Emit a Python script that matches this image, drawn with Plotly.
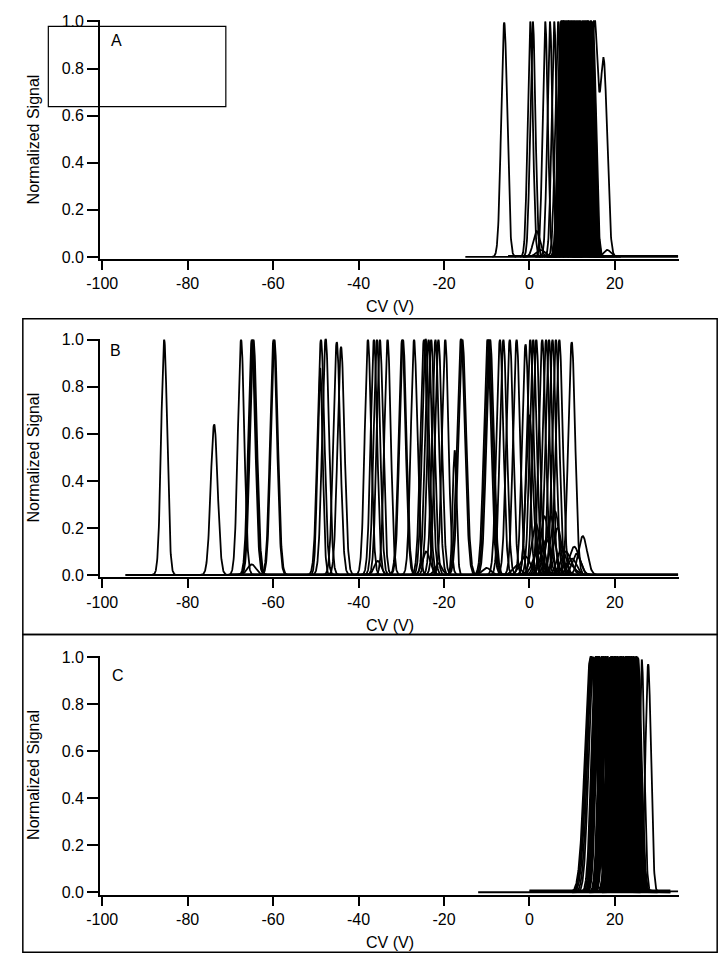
import numpy as np
import plotly.graph_objects as go

# ---------------- data ----------------
# Panel A: peak centres (V), heights, widths (sigma, V)
A_centers = [-5.9, 0.2, 0.8, 3.7, 4.8, 5.8, 6.7,
             7.3, 7.5, 7.65, 7.8, 7.95, 8.1, 8.25, 8.4, 8.55, 8.7, 8.85, 9.0,
             9.15, 9.3, 9.45, 9.6, 9.75, 9.9, 10.05, 10.2, 10.35, 10.5, 10.65,
             10.8, 10.95, 11.1, 11.25, 11.4, 11.55, 11.7, 11.85, 12.0, 12.15,
             12.3, 12.45, 12.6, 12.75, 12.9, 13.05, 13.2, 13.35, 13.5, 13.65,
             13.8, 13.95, 14.1, 14.25, 14.4, 14.55, 14.7, 14.85,
             1.7, 2.6, 18.2, 9.5, 12.0]
A_heights = [0.995, 1.0, 1.0, 1.0, 1.0, 1.0, 1.0,
             1.0, 1.005, 0.995, 1.01, 1.0, 1.005, 0.995, 1.0, 1.01, 1.0, 0.995, 1.005,
             1.0, 1.01, 1.0, 0.995, 1.005, 1.0, 1.0, 1.01, 0.995, 1.0, 1.005,
             1.0, 0.995, 1.005, 1.0, 1.0, 1.01, 0.995, 1.0, 1.005, 0.995,
             1.0, 1.0, 1.01, 0.995, 1.0, 1.005, 1.0, 0.995, 1.01, 1.0,
             1.005, 0.995, 1.0, 1.0, 1.005, 0.995, 1.0, 0.995,
             0.11, 0.03, 0.03, 0.025, 0.02]
A_widths = [0.7, 0.6, 0.6, 0.6, 0.6, 0.6, 0.65,
            0.65, 0.7, 0.7, 0.7, 0.7, 0.7, 0.7, 0.7, 0.7, 0.7, 0.7, 0.7,
            0.7, 0.7, 0.7, 0.7, 0.7, 0.7, 0.7, 0.7, 0.7, 0.7, 0.7,
            0.7, 0.7, 0.7, 0.7, 0.7, 0.7, 0.7, 0.7, 0.7, 0.7,
            0.7, 0.7, 0.7, 0.7, 0.7, 0.7, 0.7, 0.7, 0.7, 0.7,
            0.7, 0.7, 0.7, 0.7, 0.7, 0.7, 0.7, 0.7,
            0.8, 1.0, 0.8, 2.0, 2.0]
# one scan in A shows two overlapping peaks
A_twin_centers = [15.2, 17.4]
A_twin_heights = [1.0, 0.82]
A_twin_widths = [0.8, 0.8]
A_scan = [-15.0, 34.8]

# Panel B
B_centers = [-85.5, -73.8, -67.5, -65.0, -64.8, -64.6, -59.9, -59.7,
             -49.0, -48.8, -47.7, -45.1, -44.1, -37.8, -36.4, -35.7, -35.0,
             -33.2, -29.8, -29.6, -27.0, -24.7, -24.3, -23.6, -23.0, -22.0,
             -21.3, -19.7, -17.5, -16.0, -15.7, -9.8, -9.5, -9.2, -6.9, -6.1,
             -4.6, -3.0, -0.9, 0.0, 0.2, 0.9, 1.6, 3.0, 3.9, 4.6, 5.4, 6.2,
             7.0, 9.9,
             -65.0, -35.5, -24.2, -21.3, -1.0, 1.5, 2.0, 2.5, 3.5, 4.0, 5.0,
             6.0, 6.6, 7.5, 8.5, 9.0, 10.0, 10.5, 11.0, 12.5, -3.0, -10.0]
B_heights = [1.0, 0.64, 1.0, 1.0, 1.0, 1.0, 1.0, 1.0,
             0.88, 1.0, 1.005, 0.99, 0.97, 1.0, 1.0, 1.0, 1.0,
             1.0, 1.0, 1.0, 1.0, 1.0, 1.005, 1.0, 1.0, 1.0,
             1.0, 1.0, 0.53, 1.005, 1.0, 1.0, 1.0, 1.0, 1.0, 1.0,
             1.0, 1.0, 0.98, 0.68, 1.0, 1.0, 1.0, 1.0, 1.0, 1.0, 1.0, 1.0,
             1.0, 0.99,
             0.045, 0.06, 0.10, 0.05, 0.08, 0.22, 0.10, 0.18, 0.25, 0.15, 0.25,
             0.27, 0.20, 0.12, 0.10, 0.05, 0.07, 0.12, 0.09, 0.165, 0.04, 0.03]
B_widths = [0.7, 0.8, 0.75, 0.8, 0.8, 0.8, 0.8, 0.8,
            0.6, 0.8, 0.8, 0.8, 0.8, 0.75, 0.75, 0.75, 0.75,
            0.75, 0.8, 0.8, 0.75, 0.8, 0.8, 0.8, 0.8, 0.8,
            0.8, 0.75, 0.45, 0.9, 0.9, 0.85, 0.85, 0.85, 0.8, 0.8,
            0.8, 0.8, 0.8, 0.8, 0.8, 0.8, 0.8, 0.8, 0.8, 0.8, 0.8, 0.8,
            0.8, 0.8,
            1.0, 0.8, 0.9, 0.8, 1.2, 1.0, 1.2, 1.0, 1.0, 1.2, 1.0,
            1.0, 1.0, 1.0, 1.2, 1.5, 1.0, 1.2, 1.0, 1.0, 1.0, 1.0]
B_scan = [-94.6, 34.8]

# Panel C
C_centers = [14.3, 14.45, 14.6, 14.75, 14.9, 15.4, 15.55, 15.7, 15.85, 16.0,
             16.15, 16.3, 16.45, 16.95, 17.1, 17.25, 17.4, 17.55, 17.7, 17.85,
             18.0, 18.15, 18.3, 18.85, 19.0, 19.15, 19.3, 19.45, 19.6, 19.75,
             19.9, 20.05, 20.2, 20.35, 20.5, 20.65, 20.8, 20.95, 21.1, 21.25,
             21.4, 21.55, 21.7, 21.85, 22.0, 22.15, 22.3, 22.45, 22.6, 22.75,
             22.9, 23.05, 23.2, 23.35, 23.5, 23.65, 23.8, 23.95, 24.1, 24.25,
             24.4, 24.55, 24.7, 24.85, 25.0, 25.15, 25.3, 25.45, 26.3, 27.8,
             18.0, 22.0, 25.0]
C_heights = [1.0, 1.005, 1.0, 0.99, 1.0, 1.0, 1.005, 1.0, 1.005, 1.0,
             1.0, 1.005, 1.0, 1.005, 1.0, 1.0, 1.005, 1.0, 0.995, 1.005,
             1.0, 1.0, 1.005, 1.0, 1.0, 1.005, 0.995, 1.005, 1.0, 1.0,
             1.005, 1.0, 1.005, 1.0, 1.0, 1.005, 1.0, 0.995, 1.0, 1.005,
             1.0, 1.005, 1.0, 1.0, 1.005, 1.0, 0.995, 1.0, 1.005, 1.0,
             1.0, 1.005, 1.0, 0.995, 1.005, 1.0, 1.0, 1.005, 1.0, 1.0,
             1.005, 1.0, 0.995, 1.0, 1.005, 1.0, 1.0, 0.995, 0.99, 0.97,
             0.03, 0.03, 0.02]
C_widths = [1.3, 1.25, 1.2, 1.1, 1.0, 0.9, 0.85, 0.8, 0.8, 0.8,
            0.8, 0.8, 0.8, 0.8, 0.8, 0.8, 0.8, 0.8, 0.8, 0.8,
            0.8, 0.8, 0.8, 0.8, 0.8, 0.8, 0.8, 0.8, 0.8, 0.8,
            0.8, 0.8, 0.8, 0.8, 0.8, 0.8, 0.8, 0.8, 0.8, 0.8,
            0.8, 0.8, 0.8, 0.8, 0.8, 0.8, 0.8, 0.8, 0.8, 0.8,
            0.8, 0.8, 0.8, 0.8, 0.8, 0.8, 0.8, 0.8, 0.8, 0.8,
            0.8, 0.8, 0.8, 0.8, 0.8, 0.8, 0.8, 0.8, 0.6, 0.65,
            2.0, 2.0, 2.0]
C_scan_long = [-12.0, 33.0]
C_scan_short = [0.0, 33.0]

x_tick_vals = [-100, -80, -60, -40, -20, 0, 20]
x_tick_text = ["-100", "-80", "-60", "-40", "-20", "0", "20"]
y_tick_vals = [0.0, 0.2, 0.4, 0.6, 0.8, 1.0]
y_tick_text = ["0.0", "0.2", "0.4", "0.6", "0.8", "1.0"]
panel_labels = ["A", "B", "C"]

# ---------------- build curves ----------------
STEP = 0.05


def peaks_to_xy(centers, heights, widths):
    xs, ys = [], []
    for c, h, s in zip(centers, heights, widths):
        x = np.arange(c - 4 * s, c + 4 * s + STEP / 2, STEP)
        y = h * np.exp(-0.5 * ((x - c) / s) ** 2)
        xs += list(x) + [None]
        ys += list(y) + [None]
    return xs, ys


def twin_to_xy(centers, heights, widths):
    lo = min(c - 4 * s for c, s in zip(centers, widths))
    hi = max(c + 4 * s for c, s in zip(centers, widths))
    x = np.arange(lo, hi + STEP / 2, STEP)
    y = np.zeros_like(x)
    for c, h, s in zip(centers, heights, widths):
        y += h * np.exp(-0.5 * ((x - c) / s) ** 2)
    return list(x) + [None], list(y) + [None]


def baseline(scan, level=0.0):
    return [scan[0], scan[1], None], [level, level, None]


fig = go.Figure()
LINE = dict(color="black", width=1.8)

# Panel A
ax, ay = peaks_to_xy(A_centers, A_heights, A_widths)
tx, ty = twin_to_xy(A_twin_centers, A_twin_heights, A_twin_widths)
bx, by = baseline(A_scan)
bx2, by2 = baseline([-5.0, A_scan[1]], 0.004)
fig.add_trace(go.Scatter(x=bx + bx2 + ax + tx, y=by + by2 + ay + ty, mode="lines",
                         line=LINE, xaxis="x", yaxis="y", showlegend=False,
                         hoverinfo="skip"))

# Panel B
bx_, by_ = peaks_to_xy(B_centers, B_heights, B_widths)
lx, ly = baseline(B_scan)
lx2, ly2 = baseline([-70.0, B_scan[1]], 0.004)
fig.add_trace(go.Scatter(x=lx + lx2 + bx_, y=ly + ly2 + by_, mode="lines",
                         line=LINE, xaxis="x2", yaxis="y2", showlegend=False,
                         hoverinfo="skip"))

# Panel C
cx, cy = peaks_to_xy(C_centers, C_heights, C_widths)
c1x, c1y = baseline(C_scan_long)
c2x, c2y = baseline(C_scan_short, 0.008)
c3x, c3y = baseline([C_scan_short[0], 34.8], 0.004)
fig.add_trace(go.Scatter(x=c1x + c2x + c3x + cx, y=c1y + c2y + c3y + cy, mode="lines",
                         line=LINE, xaxis="x3", yaxis="y3", showlegend=False,
                         hoverinfo="skip"))

# ---------------- layout ----------------
W, H = 726, 968
FONT = "Liberation Sans, Arial, sans-serif"
xdom = [87.8 / W, 678.0 / W]
ydoms = [[1 - 255.7 / H, 1 - 13.5 / H],
         [1 - 578.1 / H, 1 - 336.1 / H],
         [1 - 899.7 / H, 1 - 657.8 / H]]

xaxis_common = dict(domain=xdom, range=[-100.5, 35.0], tickmode="array",
                    tickvals=x_tick_vals, ticktext=x_tick_text,
                    ticks="outside", ticklen=9, tickwidth=1.5, tickcolor="black",
                    showline=True, linecolor="black", linewidth=2,
                    showgrid=False, zeroline=False,
                    tickfont=dict(family=FONT, size=16, color="black"))
yaxis_common = dict(range=[-0.01, 1.005], tickmode="array",
                    tickvals=y_tick_vals, ticktext=y_tick_text,
                    ticks="outside", ticklen=11, tickwidth=1.5, tickcolor="black",
                    showline=True, linecolor="black", linewidth=2,
                    showgrid=False, zeroline=False,
                    tickfont=dict(family=FONT, size=16, color="black"))

layout = dict(width=W, height=H, autosize=False,
              margin=dict(l=0, r=0, t=0, b=0),
              paper_bgcolor="white", plot_bgcolor="white",
              font=dict(family=FONT, size=16, color="black"),
              showlegend=False)
for i in range(3):
    sx = "" if i == 0 else str(i + 1)
    layout["xaxis" + sx] = dict(xaxis_common, anchor="y" + sx)
    layout["yaxis" + sx] = dict(yaxis_common, domain=ydoms[i], anchor="x" + sx)
fig.update_layout(**layout)

# axis titles and panel letters
ann = []
title_y = [304, 627, 948]
letter_pos = [(105, 34), (103, 348), (106, 678)]
for i in range(3):
    ann.append(dict(text="CV (V)", x=383 / W, y=1 - title_y[i] / H, xref="paper",
                    yref="paper", showarrow=False, xanchor="center", yanchor="middle",
                    font=dict(family=FONT, size=16, color="black")))
    ann.append(dict(text="Normalized Signal", x=20 / W,
                    y=(ydoms[i][0] + ydoms[i][1]) / 2, xref="paper", yref="paper",
                    showarrow=False, textangle=-90, xanchor="center", yanchor="middle",
                    font=dict(family=FONT, size=16, color="black")))
    lx_, ly_ = letter_pos[i]
    ann.append(dict(text=panel_labels[i], x=lx_ / W, y=1 - ly_ / H, xref="paper",
                    yref="paper", showarrow=False, xanchor="center", yanchor="middle",
                    font=dict(family=FONT, size=16, color="black")))
fig.update_layout(annotations=ann)

# frames around panels B and C, and the inset box in A
shapes = [
    dict(type="rect", xref="paper", yref="paper", x0=9 / W, x1=717 / W,
         y0=1 - 636 / H, y1=1 - 316 / H, line=dict(color="black", width=1.5)),
    dict(type="rect", xref="paper", yref="paper", x0=9 / W, x1=717 / W,
         y0=1 - 958 / H, y1=1 - 636 / H, line=dict(color="black", width=1.5)),
    dict(type="rect", xref="paper", yref="paper", x0=35 / W, x1=216 / W,
         y0=1 - 101 / H, y1=1 - 19.7 / H, line=dict(color="black", width=1.2)),
]
fig.update_layout(shapes=shapes)

fig.write_html("out.html",
               config={"displayModeBar": False},
               post_script="document.body.style.margin='0';"
                           "document.body.style.overflow='hidden';")
